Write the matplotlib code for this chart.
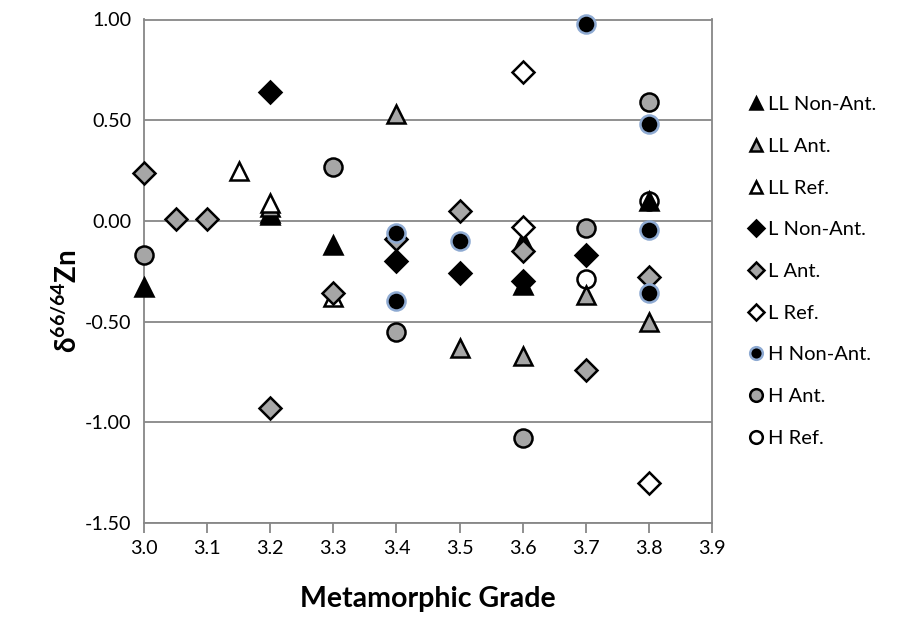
import matplotlib
matplotlib.use("Agg")
import matplotlib.pyplot as plt
from matplotlib.ticker import FormatStrFormatter

plt.rcParams['font.family'] = ['Lato', 'DejaVu Sans']
plt.rcParams['mathtext.fontset'] = 'custom'
plt.rcParams['mathtext.bf'] = 'Lato:bold'
plt.rcParams['mathtext.rm'] = 'Lato'

# --- data --------------------------------------------------------------
ll_non_x = [3.0, 3.2, 3.2, 3.3, 3.6, 3.6, 3.8]
ll_non_y = [-0.33, 0.03, 0.04, -0.12, -0.10, -0.32, 0.10]
ll_ant_x = [3.2, 3.4, 3.5, 3.6, 3.7, 3.8]
ll_ant_y = [0.07, 0.53, -0.63, -0.67, -0.37, -0.50]
ll_ref_x = [3.15, 3.2, 3.3]
ll_ref_y = [0.25, 0.09, -0.38]
l_non_x = [3.2, 3.4, 3.5, 3.6, 3.7]
l_non_y = [0.64, -0.20, -0.26, -0.30, -0.17]
l_ant_x = [3.0, 3.05, 3.1, 3.2, 3.3, 3.4, 3.5, 3.6, 3.7, 3.8]
l_ant_y = [0.24, 0.01, 0.01, -0.93, -0.36, -0.09, 0.05, -0.15, -0.74, -0.28]
l_ref_x = [3.6, 3.6, 3.8]
l_ref_y = [0.74, -0.03, -1.30]
h_non_x = [3.4, 3.4, 3.5, 3.7, 3.8, 3.8, 3.8]
h_non_y = [-0.06, -0.40, -0.10, 0.98, 0.48, -0.045, -0.36]
h_ant_x = [3.0, 3.3, 3.4, 3.6, 3.7, 3.8]
h_ant_y = [-0.17, 0.27, -0.55, -1.08, -0.035, 0.59]
h_ref_x = [3.7, 3.8]
h_ref_y = [-0.29, 0.10]

x_ticks = [3.0, 3.1, 3.2, 3.3, 3.4, 3.5, 3.6, 3.7, 3.8, 3.9]
y_ticks = [-1.5, -1.0, -0.5, 0.0, 0.5, 1.0]

GRAY = '#a6a6a6'
BLUE_EDGE = '#8eaad2'
GRID = '#878787'

series = [
    ("LL Non-Ant.", ll_non_x, ll_non_y, '^', 'black', 'black', 13),
    ("LL Ant.", ll_ant_x, ll_ant_y, '^', GRAY, 'black', 13),
    ("LL Ref.", ll_ref_x, ll_ref_y, '^', 'white', 'black', 13),
    ("L Non-Ant.", l_non_x, l_non_y, 'D', 'black', 'black', 11),
    ("L Ant.", l_ant_x, l_ant_y, 'D', GRAY, 'black', 11),
    ("L Ref.", l_ref_x, l_ref_y, 'D', 'white', 'black', 11),
    ("H Non-Ant.", h_non_x, h_non_y, 'o', 'black', BLUE_EDGE, 13),
    ("H Ant.", h_ant_x, h_ant_y, 'o', GRAY, 'black', 13),
    ("H Ref.", h_ref_x, h_ref_y, 'o', 'none', 'black', 13),
]

fig = plt.figure(figsize=(9.19, 6.26), dpi=100)
ax = fig.add_axes([144 / 919, 103 / 626, 568 / 919, 503.5 / 626])

for label, xs, ys, m, fc, ec, ms in series:
    ax.plot(xs, ys, linestyle='none', marker=m, markersize=ms,
            markerfacecolor=fc, markeredgecolor=ec, markeredgewidth=1.8,
            label=label, zorder=3, clip_on=False)

ax.set_xlim(3.0, 3.9)
ax.set_ylim(-1.5, 1.0)
ax.set_xticks(x_ticks)
ax.set_yticks(y_ticks)
ax.xaxis.set_major_formatter(FormatStrFormatter('%.1f'))
ax.yaxis.set_major_formatter(FormatStrFormatter('%.2f'))
ax.grid(axis='y', color=GRID, linewidth=1.3, zorder=0)
ax.set_axisbelow(True)
for side in ('left', 'right', 'bottom', 'top'):
    ax.spines[side].set_color(GRID)
    ax.spines[side].set_linewidth(1.3)
ax.tick_params(axis='x', direction='out', length=7, width=1.3, color=GRID,
               labelsize=14.2, pad=5)
ax.tick_params(axis='y', length=0, labelsize=14.2, pad=9)

ax.set_xlabel("Metamorphic Grade", fontsize=20.5, fontweight='bold', labelpad=21)
fig.text(67 / 919, 1 - 301 / 626, r"δ$^{\mathbf{66/64}}$Zn", fontsize=20,
         fontweight='bold', rotation=90, ha='center', va='center')

leg = fig.legend(loc='center left', bbox_to_anchor=(738 / 919, 1 - 271.5 / 626),
                 frameon=False, fontsize=14.5, labelspacing=1.22, handletextpad=0.1,
                 handlelength=1.0, markerscale=0.7, borderaxespad=0)

fig.savefig("out.png", dpi=100)
